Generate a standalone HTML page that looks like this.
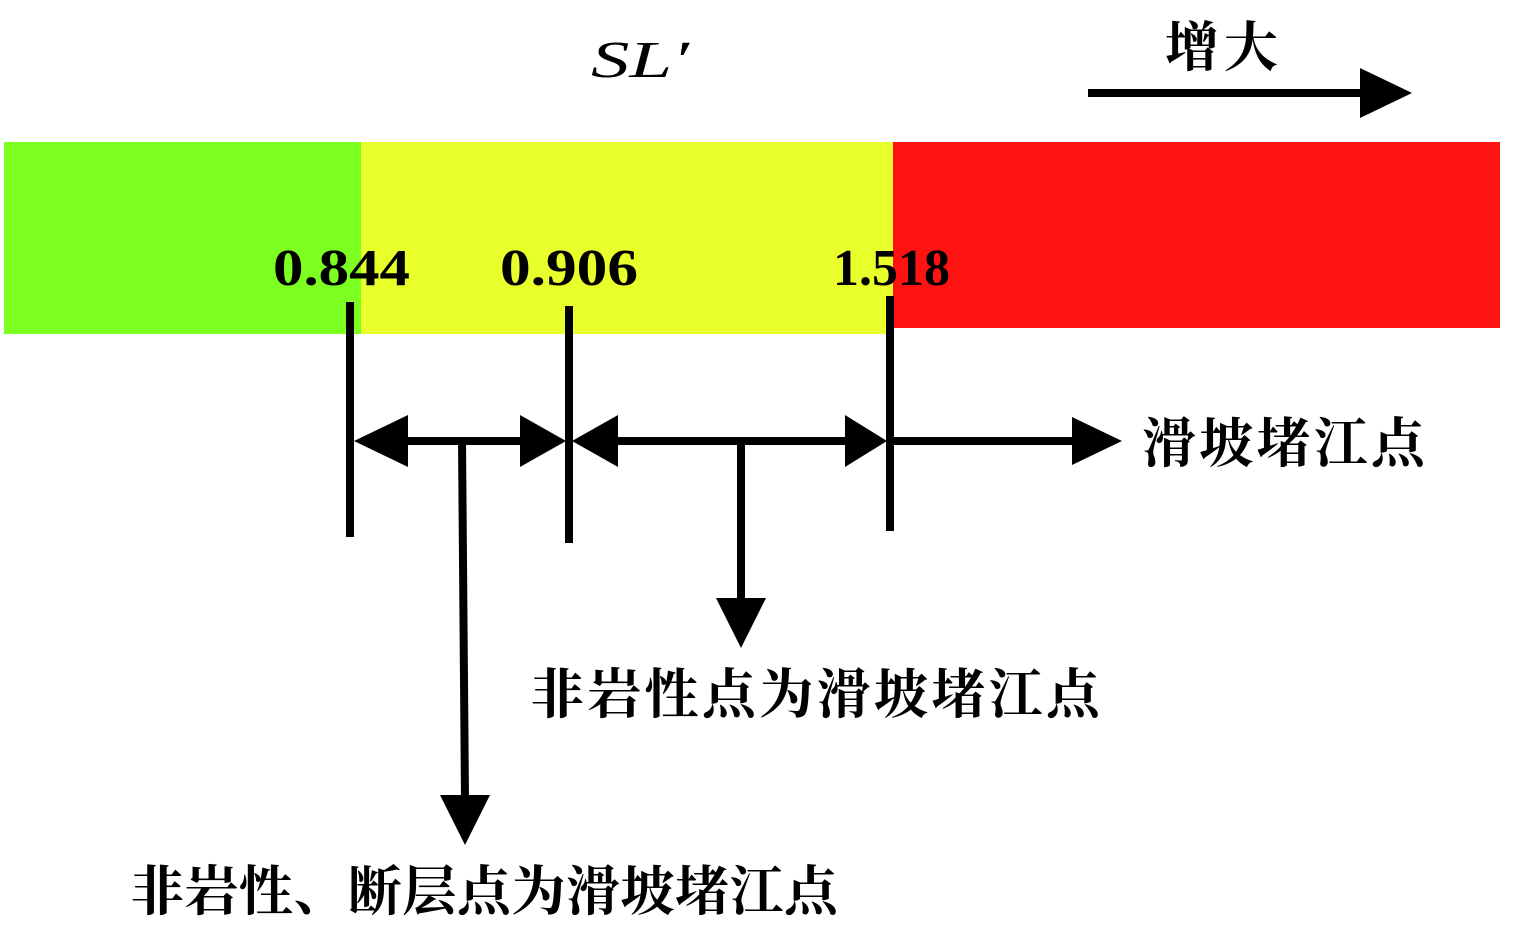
<!DOCTYPE html>
<html><head><meta charset="utf-8"><style>
html,body{margin:0;padding:0;background:#fff;width:1515px;height:934px;overflow:hidden}
</style></head><body>
<svg width="1515" height="934" viewBox="0 0 1515 934" xmlns="http://www.w3.org/2000/svg">
<rect x="4" y="142" width="358" height="192" fill="#7dff22"/>
<rect x="361" y="142" width="533" height="192" fill="#e8ff2c"/>
<rect x="893" y="142" width="607" height="186" fill="#ff1212"/>
<g font-family="Liberation Serif, serif" font-weight="bold" font-size="52" fill="#000">
<text x="273" y="285" textLength="137" lengthAdjust="spacingAndGlyphs">0.844</text>
<text x="500" y="285" textLength="138" lengthAdjust="spacingAndGlyphs">0.906</text>
<text x="833" y="285" textLength="117" lengthAdjust="spacingAndGlyphs">1.518</text>
</g>
<text x="591" y="77" font-family="Liberation Serif, serif" font-style="italic" font-size="52" textLength="98" lengthAdjust="spacingAndGlyphs">SL′</text>
<g font-family="Liberation Serif, 'Noto Serif CJK SC', serif" font-weight="bold" font-size="54" fill="#000">
<text x="1165" y="66" textLength="113">增大</text>
<text x="1142" y="462" textLength="283">滑坡堵江点</text>
<text x="530" y="713" textLength="570">非岩性点为滑坡堵江点</text>
<text x="130" y="910" textLength="708">非岩性、断层点为滑坡堵江点</text>
</g>
<g stroke="#000" stroke-width="8" fill="none">
<line x1="350" y1="302" x2="350" y2="537"/>
<line x1="569" y1="306" x2="569" y2="543"/>
<line x1="890" y1="296" x2="890" y2="531"/>
<line x1="400" y1="441" x2="525" y2="441"/>
<line x1="615" y1="441" x2="848" y2="441"/>
<line x1="890" y1="441" x2="1075" y2="441"/>
<line x1="462" y1="441" x2="465" y2="800"/>
<line x1="741" y1="441" x2="741" y2="600"/>
<line x1="1088" y1="93" x2="1365" y2="93"/>
</g>
<g fill="#000">
<polygon points="354,441 408,415 408,467"/>
<polygon points="566,441 520,415 520,467"/>
<polygon points="572,441 618,415 618,467"/>
<polygon points="887,441 845,415 845,467"/>
<polygon points="1122,441 1072,417 1072,465"/>
<polygon points="465,845 440,795 490,795"/>
<polygon points="741,648 716,598 766,598"/>
<polygon points="1412,93 1360,68 1360,118"/>
</g>
</svg>
</body></html>
